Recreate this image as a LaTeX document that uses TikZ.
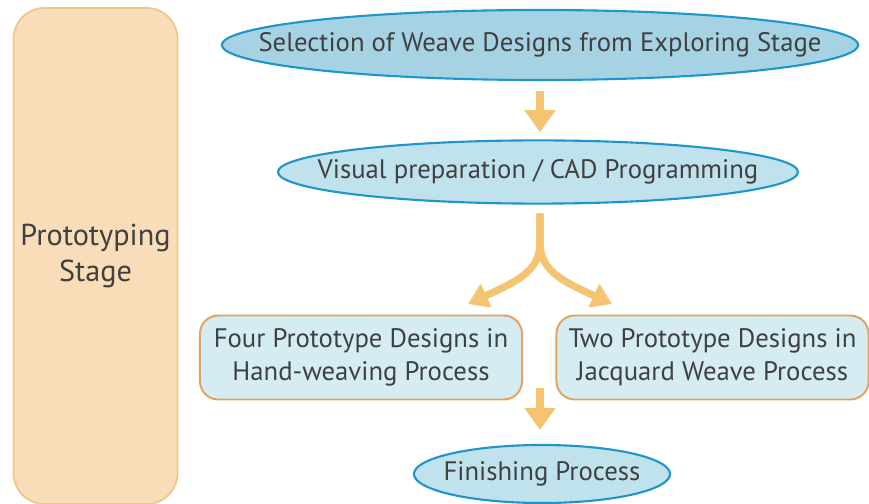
\documentclass[tikz,border=0pt]{standalone}
\usepackage{fontspec}
\setmainfont{PT Sans}
\usepackage{tikz}
\usetikzlibrary{shapes.geometric, arrows.meta, positioning, calc}
\definecolor{stagefill}{RGB}{249, 221, 184}
\definecolor{stagedraw}{RGB}{240, 196, 138}
\definecolor{ovalblue}{RGB}{30, 150, 205}
\definecolor{topfill}{RGB}{166, 211, 228}
\definecolor{ovalfill}{RGB}{192, 226, 237}
\definecolor{procfill}{RGB}{213, 236, 243}
\definecolor{procdraw}{RGB}{228, 162, 98}
\definecolor{arrowc}{RGB}{245, 196, 112}
\definecolor{textc}{RGB}{64, 64, 64}

\begin{document}
\begin{tikzpicture}[
    x=0.025cm, y=-0.025cm,
    font=\fontsize{19}{23.5}\selectfont, text=textc,
    stage_node/.style={rectangle, draw=stagedraw, fill=stagefill, line width=1.2pt, rounded corners=22pt, minimum width=4.1cm, minimum height=12.4cm, align=center, font=\fontsize{21.5}{25}\selectfont},
    oval_node/.style={ellipse, draw=ovalblue, fill=ovalfill, line width=1.5pt, inner sep=0pt},
    proc_node/.style={rectangle, draw=procdraw, fill=procfill, line width=1.4pt, rounded corners=13pt, minimum height=2.1cm, align=center, inner sep=0pt},
    arr/.style={-{Triangle[width=0.75cm, length=0.55cm]}, line width=0.2cm, color=arrowc},
    fork/.style={-{Triangle[width=0.62cm, length=0.5cm]}, line width=0.18cm, color=arrowc}
]
    \useasboundingbox (0,0) rectangle (869,504);

    \node[stage_node] (stage) at (95.5,256) {Prototyping\\Stage};

    \node[oval_node, fill=topfill, minimum width=15.9cm, minimum height=1.75cm] (select) at (540,45) {\makebox[0pt]{Selection of Weave Designs from Exploring Stage}};
    \node[oval_node, minimum width=13cm, minimum height=1.58cm] (visual) at (538,172) {\makebox[0pt]{Visual preparation / CAD Programming}};

    \node[proc_node, minimum width=8.05cm] (four) at (361,357.5) {Four Prototype Designs in\\Hand-weaving Process};
    \node[proc_node, minimum width=7.8cm] (two) at (712.5,357.5) {Two Prototype Designs in\\Jacquard Weave Process};

    \node[oval_node, minimum width=6.4cm, minimum height=1.45cm] (finish) at (542,474) {\makebox[0pt]{Finishing Process}};

    \coordinate (split) at (540,242);
    \coordinate (join) at (540,388);

    \draw[arr, shorten <=0.25cm, shorten >=0.18cm] (select.south -| split) -- (visual.north -| split);
    \draw[fork, shorten <=0.22cm] (visual.south -| split) -- (split) .. controls (540,270) and (520,280) .. (468,304);
    \draw[fork, shorten <=0.22cm] (visual.south -| split) -- (split) .. controls (540,270) and (560,280) .. (612,304);
    \draw[arr, shorten >=0.35cm] (join) -- (finish.north -| join);
\end{tikzpicture}
\end{document}
